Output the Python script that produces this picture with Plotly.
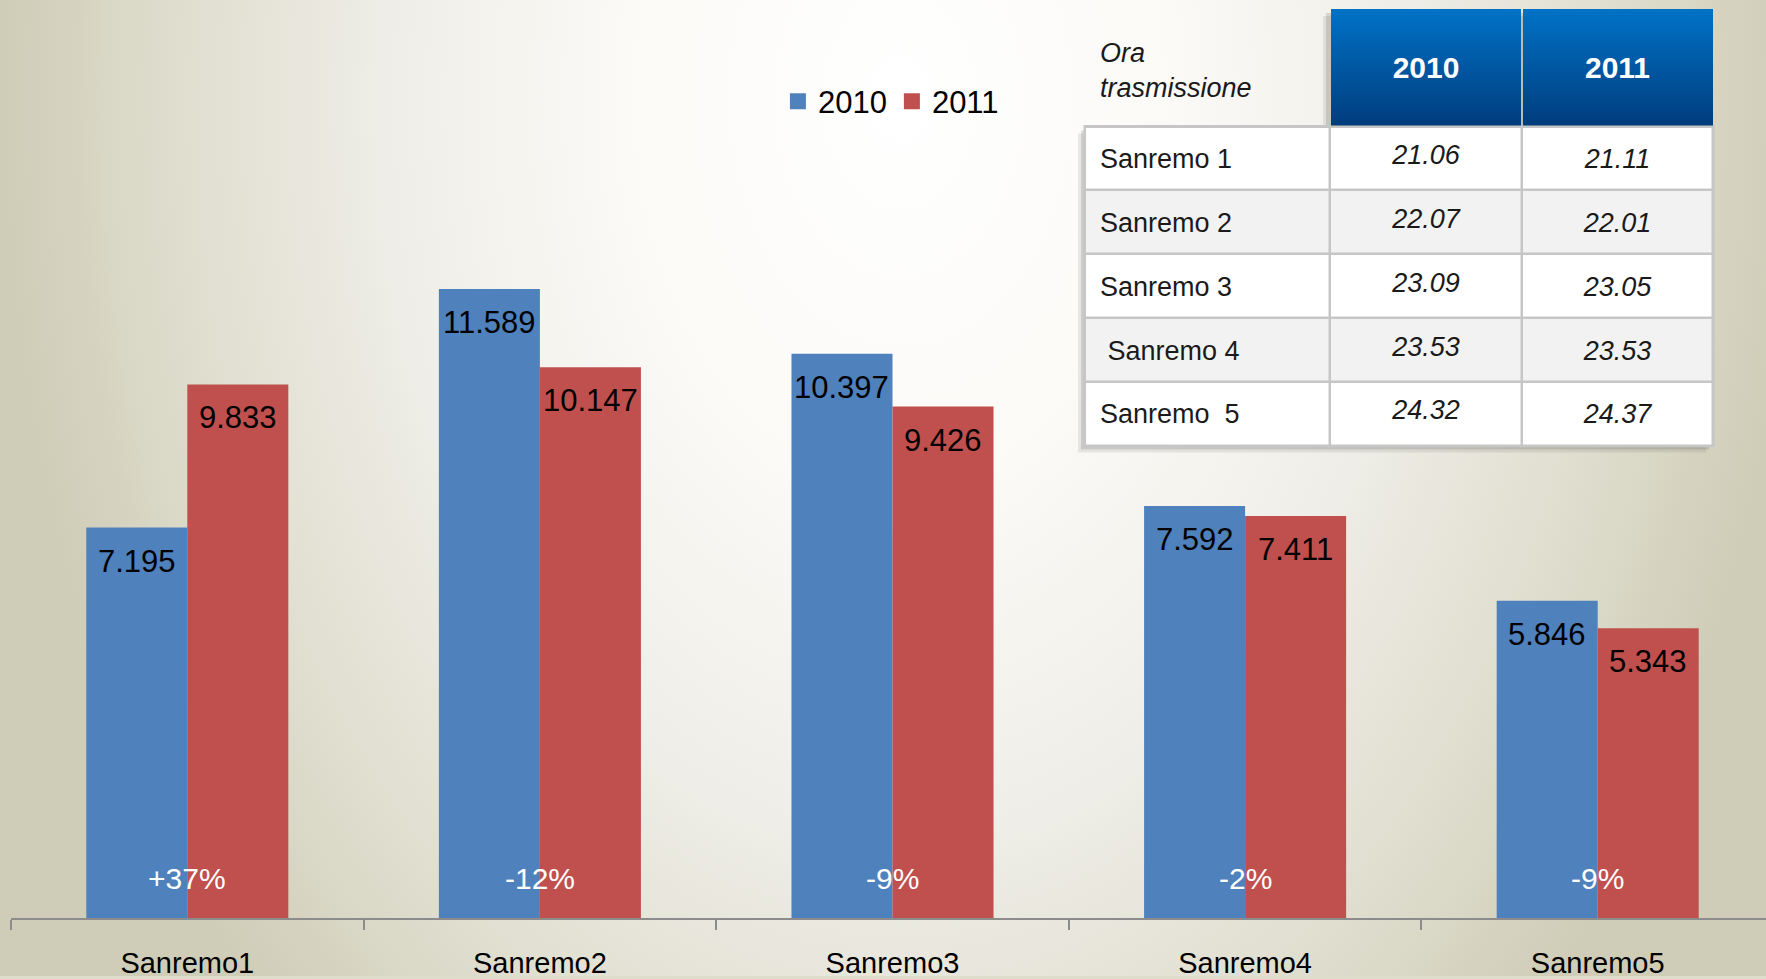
import math
import plotly.graph_objects as go

# ---------------- data ----------------
categories = ["Sanremo1", "Sanremo2", "Sanremo3", "Sanremo4", "Sanremo5"]
series_names = ["2010", "2011"]
values_2010 = [7.195, 11.589, 10.397, 7.592, 5.846]
values_2011 = [9.833, 10.147, 9.426, 7.411, 5.343]
change_labels = ["+37%", "-12%", "-9%", "-2%", "-9%"]

table_corner = "Ora<br>trasmissione"
table_years = ["2010", "2011"]
table_rows = ["Sanremo 1", "Sanremo 2", "Sanremo 3", "\u00a0Sanremo 4", "Sanremo\u00a0 5"]
time_2010 = ["21.06", "22.07", "23.09", "23.53", "24.32"]
time_2011 = ["21.11", "22.01", "23.05", "23.53", "24.37"]

# ---------------- style / geometry ----------------
W, H = 1766, 979
BLUE, RED = "#4F81BD", "#C0504D"
SANS = "Liberation Sans, Arial, sans-serif"

plot_left = 11          # px where the category axis starts
axis_y = 921            # px of the baseline from top
px_per_cat = 352.6
px_per_unit = 54.45
bargap = 0.427
bar_px = px_per_cat * (1 - bargap) / 2

T_LEFT, T_TOP = 1085, 9
col_w = [245, 192, 191]
head_h, row_h = 118, 64
col_edges = [0]
for w in col_w:
    col_edges.append(col_edges[-1] + w)
row_edges = [0, head_h]
for _ in table_rows:
    row_edges.append(row_edges[-1] + row_h)
T_W, T_H = col_edges[-1], row_edges[-1]

fig = go.Figure()


def rect(x0, y0, x1, y1):
    return [x0, x1, x1, x0, x0], [y0, y0, y1, y1, y0]


# ---------------- background (pixel-space helper axes x/y) ----------------
bx, by = rect(0, -1200, 1800, 1400)
fig.add_trace(go.Scatter(
    x=bx, y=by, mode="lines", line=dict(width=0), fill="toself",
    fillgradient=dict(type="radial", colorscale=[
        [0.0, "#ffffff"], [0.3, "#fbfaf7"], [0.56, "#efeee8"],
        [0.77, "#e2e0d2"], [1.0, "#cfcdb7"]]),
    hoverinfo="skip", showlegend=False, xaxis="x", yaxis="y"))

# table shadows
for off, alpha in ((7, 0.10), (4, 0.16)):
    sx, sy = rect(T_LEFT - off, T_TOP + head_h + off, T_LEFT + T_W - off, T_TOP + T_H + off)
    fig.add_trace(go.Scatter(x=sx, y=sy, mode="lines", line=dict(width=0), fill="toself",
                             fillcolor=f"rgba(60,60,60,{alpha})", hoverinfo="skip",
                             showlegend=False, xaxis="x", yaxis="y"))
    sx, sy = rect(T_LEFT + col_edges[1] - off, T_TOP + off, T_LEFT + T_W - off, T_TOP + head_h)
    fig.add_trace(go.Scatter(x=sx, y=sy, mode="lines", line=dict(width=0), fill="toself",
                             fillcolor=f"rgba(60,60,60,{alpha})", hoverinfo="skip",
                             showlegend=False, xaxis="x", yaxis="y"))
# grid-line backing of the table body
gx, gy = rect(T_LEFT - 1.5, T_TOP + head_h - 1.5, T_LEFT + T_W + 1.5, T_TOP + T_H + 1.5)
fig.add_trace(go.Scatter(x=gx, y=gy, mode="lines", line=dict(width=0), fill="toself",
                         fillcolor="#c6c6c6", hoverinfo="skip", showlegend=False,
                         xaxis="x", yaxis="y"))

# ---------------- bars ----------------
for name, vals, col in ((series_names[0], values_2010, BLUE), (series_names[1], values_2011, RED)):
    fig.add_trace(go.Bar(x=categories, y=vals, name=name, marker=dict(color=col, line=dict(width=0)),
                         xaxis="x2", yaxis="y2", hoverinfo="skip", showlegend=False,
                         legendgroup=name))
# legend entries with larger square keys
for name, col in ((series_names[0], BLUE), (series_names[1], RED)):
    fig.add_trace(go.Scatter(x=[None], y=[None], mode="markers", name=name, legendgroup=name,
                             marker=dict(symbol="square", size=17, color=col),
                             xaxis="x2", yaxis="y2", hoverinfo="skip"))

annotations = []
for i, c in enumerate(categories):
    for vals, shift in ((values_2010, -bar_px / 2), (values_2011, bar_px / 2)):
        annotations.append(dict(
            x=c, y=vals[i], xref="x2", yref="y2", text=f"{vals[i]:.3f}", showarrow=False,
            xshift=shift, yanchor="top", yshift=-14,
            font=dict(size=31, color="black", family=SANS)))
    annotations.append(dict(
        x=c, y=0, xref="x2", yref="y2", text=change_labels[i], showarrow=False,
        yanchor="middle", yshift=40, font=dict(size=30, color="white", family=SANS)))

# ---------------- table (axes x3/y3) ----------------
z = [[None] * 3]
for r in range(len(table_rows)):
    z.append([r % 2] * 3)
fig.add_trace(go.Heatmap(x=col_edges, y=row_edges, z=z, zmin=0, zmax=1,
                         colorscale=[[0, "#ffffff"], [1, "#f2f2f2"]], showscale=False,
                         xgap=2.5, ygap=2.5, hoverinfo="skip", xaxis="x3", yaxis="y3"))
for k in (1, 2):
    hx, hy = rect(col_edges[k] + 1, 0, col_edges[k + 1] - (1 if k < 2 else 0), head_h - 1)
    fig.add_trace(go.Scatter(x=hx, y=hy, mode="lines", line=dict(width=0), fill="toself",
                             fillgradient=dict(type="vertical", start=0, stop=head_h,
                                               colorscale=[[0, "#0072C6"], [1, "#003C7C"]]),
                             hoverinfo="skip", showlegend=False, xaxis="x3", yaxis="y3"))

row_centers = [(row_edges[i + 1] + row_edges[i + 2]) / 2 for i in range(len(table_rows))]
head_c = head_h / 2
col_c = [(col_edges[k] + col_edges[k + 1]) / 2 for k in range(3)]
TFONT = 27

fig.add_trace(go.Scatter(x=[15], y=[head_c + 5], mode="text", text=[f"<i>{table_corner}</i>"],
                         textposition="middle right", cliponaxis=False,
                         textfont=dict(size=TFONT, color="#1a1a1a", family=SANS),
                         hoverinfo="skip", showlegend=False, xaxis="x3", yaxis="y3"))
fig.add_trace(go.Scatter(x=col_c[1:], y=[head_c + 3, head_c + 3], mode="text",
                         text=[f"<b>{t}</b>" for t in table_years], textposition="middle center",
                         cliponaxis=False, textfont=dict(size=30, color="white", family=SANS),
                         hoverinfo="skip", showlegend=False, xaxis="x3", yaxis="y3"))
fig.add_trace(go.Scatter(x=[15] * len(table_rows), y=[c + 3 for c in row_centers], mode="text",
                         text=table_rows, textposition="middle right", cliponaxis=False,
                         textfont=dict(size=TFONT, color="#1a1a1a", family=SANS),
                         hoverinfo="skip", showlegend=False, xaxis="x3", yaxis="y3"))
for k, col_vals, dy in ((1, time_2010, -1), (2, time_2011, 3)):
    fig.add_trace(go.Scatter(x=[col_c[k]] * len(col_vals), y=[c + dy for c in row_centers],
                             mode="text", text=[f"<i>{v}</i>" for v in col_vals],
                             textposition="middle center", cliponaxis=False,
                             textfont=dict(size=TFONT, color="#1a1a1a", family=SANS),
                             hoverinfo="skip", showlegend=False, xaxis="x3", yaxis="y3"))

# ---------------- layout ----------------
fig.update_layout(
    width=W, height=H, margin=dict(l=0, r=0, t=0, b=0),
    paper_bgcolor="#deddcc", plot_bgcolor="rgba(0,0,0,0)",
    barmode="group", bargap=bargap, bargroupgap=0, hovermode=False,
    showlegend=True,
    legend=dict(orientation="h", x=0.4405, xanchor="left", y=1 - 102 / H, yanchor="middle",
                font=dict(size=31, family=SANS, color="black"), bgcolor="rgba(0,0,0,0)",
                itemsizing="trace"),
    xaxis=dict(domain=[0, 1], range=[0, W], visible=False, fixedrange=True),
    yaxis=dict(domain=[0, 1], range=[H, 0], visible=False, fixedrange=True),
    xaxis2=dict(domain=[plot_left / W, 1], anchor="y2", type="category",
                range=[-0.5, -0.5 + (W - plot_left) / px_per_cat],
                showline=True, linecolor="#8c8c8c", linewidth=2, ticks="outside",
                tickson="boundaries", ticklen=10, tickwidth=2, tickcolor="#8c8c8c",
                tickfont=dict(size=29, color="black", family=SANS), showgrid=False,
                ticklabelstandoff=18, fixedrange=True),
    yaxis2=dict(domain=[(H - axis_y) / H, 1], anchor="x2", range=[0, axis_y / px_per_unit],
                visible=False, fixedrange=True),
    xaxis3=dict(domain=[T_LEFT / W, (T_LEFT + T_W) / W], anchor="y3", range=[0, T_W],
                visible=False, fixedrange=True),
    yaxis3=dict(domain=[1 - (T_TOP + T_H) / H, 1 - T_TOP / H], anchor="x3", range=[T_H, 0],
                visible=False, fixedrange=True),
    annotations=annotations,
)

fig.write_html(
    "out.html",
    config={"displayModeBar": False, "staticPlot": True},
    post_script="document.body.style.margin='0';document.body.style.padding='0';"
                "document.documentElement.style.overflow='hidden';",
)
